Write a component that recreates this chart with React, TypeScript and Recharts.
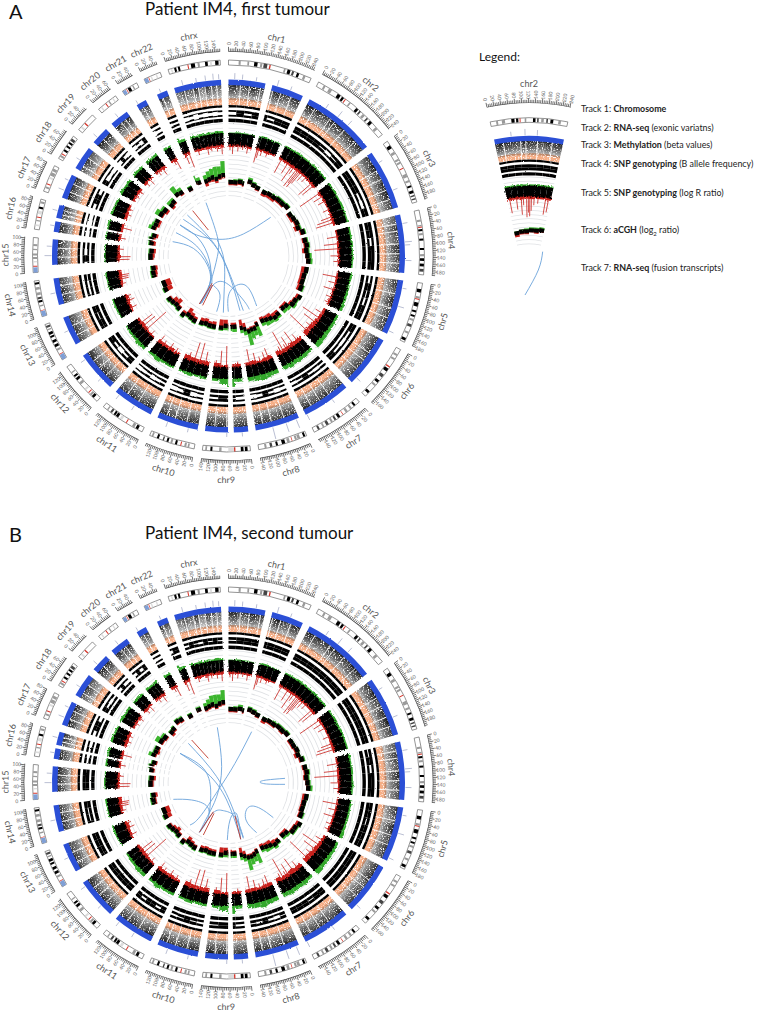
import React from 'react';
import { PieChart, Pie, Sector, LineChart, Line, XAxis, YAxis } from 'recharts';

type Pair = number[];

const chromNames = ['chr1','chr2','chr3','chr4','chr5','chr6','chr7','chr8','chr9','chr10','chr11','chr12','chr13','chr14','chr15','chr16','chr17','chr18','chr19','chr20','chr21','chr22','chrx'];
const chromSizes = [249,243,198,191,181,171,159,146,141,136,135,134,115,107,103,90,81,78,59,63,48,51,155];
const tickLabels = [0,20,40,60,80,100,120,140,160,180,200,220,240];
const tickSpacing = 5;
const chromGapMb = 24.4;

// start, end in Mb, then the stain: k black, d dark, g grey, l light, r centromere, b stalk
const cytoBands: (number|string)[][][] = [
  [[30,36,'g'],[56,61,'g'],[76,86,'k'],[94,100,'g'],[104,115,'d'],[121,125,'r'],[165,170,'g'],[176,185,'k'],[190,196,'d'],[205,212,'k'],[225,232,'g']],
  [[18,24,'g'],[36,46,'g'],[66,76,'k'],[81,88,'k'],[92,95,'r'],[108,113,'g'],[134,142,'k'],[147,152,'d'],[160,168,'g'],[176,181,'d'],[189,198,'k'],[214,222,'g']],
  [[14,24,'k'],[36,44,'g'],[60,66,'g'],[70,76,'g'],[90,93,'r'],[110,120,'g'],[130,136,'g'],[146,152,'k'],[162,170,'k'],[176,180,'d'],[186,190,'d']],
  [[28,34,'g'],[44,48,'g'],[49,52,'r'],[56,62,'k'],[68,74,'g'],[84,90,'k'],[112,118,'k'],[130,136,'g'],[142,150,'k'],[158,166,'k'],[174,182,'d']],
  [[18,28,'k'],[40,46,'g'],[47,50,'r'],[58,70,'k'],[82,88,'k'],[96,102,'k'],[108,114,'g'],[125,133,'d'],[148,154,'g'],[168,176,'k']],
  [[16,22,'g'],[30,36,'g'],[58,62,'r'],[66,76,'k'],[88,98,'d'],[110,118,'k'],[125,131,'g'],[152,160,'k']],
  [[14,20,'k'],[28,34,'g'],[43,50,'g'],[59,61,'r'],[70,78,'k'],[84,90,'d'],[96,102,'g'],[110,118,'d'],[125,130,'g'],[140,146,'d']],
  [[4,10,'k'],[20,28,'g'],[30,36,'g'],[44,46,'r'],[52,60,'g'],[66,76,'k'],[88,94,'k'],[105,112,'d'],[122,128,'g']],
  [[8,16,'k'],[20,28,'k'],[44,48,'r'],[48,65,'l'],[85,92,'g'],[112,118,'k'],[128,133,'g']],
  [[15,20,'g'],[24,30,'g'],[39,42,'r'],[52,58,'k'],[66,72,'g'],[78,84,'k'],[92,96,'d'],[108,114,'k'],[125,130,'g']],
  [[14,22,'k'],[26,34,'g'],[52,55,'r'],[68,76,'l'],[82,90,'k'],[92,98,'k'],[104,110,'d'],[118,122,'g']],
  [[14,22,'k'],[24,30,'g'],[34,37,'r'],[46,52,'l'],[68,76,'g'],[84,92,'k'],[96,102,'k'],[110,114,'g']],
  [[0,16,'b'],[17,19,'r'],[30,36,'g'],[42,50,'k'],[56,64,'k'],[72,78,'k'],[82,90,'k'],[96,100,'g'],[104,110,'d']],
  [[0,16,'b'],[17,19,'r'],[30,34,'g'],[42,48,'k'],[52,58,'d'],[64,72,'g'],[80,88,'g'],[96,102,'k']],
  [[0,15,'b'],[17,20,'r'],[30,34,'l'],[40,46,'g'],[50,56,'g'],[66,70,'g'],[78,84,'g']],
  [[10,15,'l'],[24,28,'g'],[35,38,'r'],[46,56,'l'],[62,68,'k'],[78,84,'g']],
  [[10,16,'g'],[22,25,'r'],[40,46,'l'],[50,60,'g'],[64,72,'g']],
  [[6,12,'g'],[15,18,'r'],[26,32,'k'],[40,46,'k'],[52,58,'k'],[62,70,'d']],
  [[8,14,'l'],[24,28,'r']],
  [[8,12,'l'],[25,28,'r'],[36,40,'g'],[50,54,'l']],
  [[0,10,'b'],[12,14,'r'],[17,26,'k'],[32,36,'g']],
  [[0,11,'b'],[13,15,'r'],[20,24,'l'],[36,40,'l']],
  [[8,12,'l'],[18,24,'k'],[29,35,'k'],[58,61,'r'],[68,80,'k'],[88,94,'g'],[110,118,'k'],[125,130,'l'],[140,150,'k']],
];

// stretches with no measurements (centromeres and acrocentric arms)
const noDataSpans: (number[]|null)[] = [[121,144],null,null,null,null,null,null,null,[47,66],null,null,null,[0,19],[0,19],[0,20],[35,46],null,null,null,null,[0,14],[0,16],null];

const rnaDensity = [
  [.9,.8,.95,.85,.9,.95,.8,.9],[.95,.9,.85,.95,.9,.85,.95,.9],[.85,.95,.8,.9,.95,.8],[.7,.85,.75,.9,.8,.75],[.85,.75,.9,.8,.85,.8],[.85,.9,.75,.85,.8],
  [.9,.8,.9,.85,.8,.9],[.85,.9,.8,.85,.9],[.85,.8,.9,.95],[.9,.85,.8,.9],[.9,.8,.9,.85],[.85,.9,.8,.9],[.8,.85,.8],[.85,.9,.8],[.9,.85,.9],[.9,.75,.85],[.95,.85,.9],[.75,.85,.7],[.95,.9],[.9,.85,.9],[.7,.8],[.9,.75],[.65,.8,.7,.85,.6,.85,.75,.7],
];
const rnaStreaks = [
  [40,70,108,150,178,214],[30,92,110,152,205],[60,92,132,165],[28,52,95,128,160],[48,98,132],[60,90,128],[60,96,130],[46,90,120],[70,110],[40,80,110],[55,100],[36,70,100],[45,80],[50,80],[45,75],[60,75],[26,55],[18,50],[28],[28,45],[30],[30],[30,60,78,100,122,140],
];
const rnaOutliers = [
  [[20,6],[45,5],[90,4],[160,6],[205,4]],[[60,5],[108,7],[150,6]],[[40,4],[140,5]],[[30,5],[90,7],[100,5],[150,6]],[[25,4],[85,6],[170,5]],[[150,5]],[[60,4],[155,6]],[[10,9],[45,9],[90,12]],[[20,4],[70,4]],[[30,4],[100,5]],[[60,5],[120,5]],[[40,4],[120,5]],[[70,4]],[[60,5]],[[50,7],[80,5]],[[20,4],[70,5]],[[25,6],[60,4]],[[30,4]],[[20,5]],[[30,5]],[[20,4]],[[30,4]],[[30,5],[75,4],[105,5],[130,6],[148,5]],
];

const bafSplitA = [[3,0,2,0,0,2,0,0],[0,0,0,0,1,3,1,0],[0,0,0,2,3,0],[0,0,2,0,0,0],[2,0,1,2,0,0],[0,2,3,2,0],[2,3,2,0,2,3],[3,4,2,0,3,4],[3,1,0,2],[3,4,0,3,4],[2,3,4,2,3,4],[0,2,4,2,0],[0,0,1,0],[1,2,2,1],[3,0,3,2],[4,3,5,4],[3,0,0,3],[0,4,3,4],[4,0,3,4],[4,2,4,0],[5,3],[3,2],[4,3,5,3,4,3,4,3]];
const bafSplitB = [[1,0,0,0,0,0,0,0],[0,0,0,0,0,0,0,0],[0,0,0,0,0,0],[1,0,2,0,0,0],[0,0,1,0,0,0],[0,0,0,0,0],[0,0,1,0,0,0],[1,3,2,0,2,1],[2,0,0,1],[2,1,0,1,2],[0,2,0,0,2,0],[0,0,0,0,0],[0,0,0,0],[0,1,1,0],[0,0,0,0],[2,3,2,3],[3,0,0,3],[0,2,3,2],[3,0,3,3],[3,0,3,0],[3,3],[3,0],[2,0,1,2,0,1,0,1]];

const logRGreen = [[.5,1,.8,.5,1,1.5,1,1],[1.5,1.5,2,1.5,1.5,2,1.5,1.5],[1.5,2,1.5,2,1.5,1.5],[1.5,1.5,2,1.5,2,1.5],[2,1.5,2,2,2.5,3],[2.5,3,3.5,4,5],[3,4,4,4,5,4],[4,5,6,5,4],[3,8,5,2.5],[2.5,2,3,2],[2.5,2.5,4,2.5],[3.5,4,2.5,2.5,1.5],[1,1.5,1.5],[1,1,1.5],[1,1.5,1],[1.5,1.5,2],[2.5,2,2],[2.5,2,2.5],[2.5,2],[2.5,2,2.5],[2.5,2],[5,2.5],[2.5,1.5,2,1.5,2,1.5,2.5,2]];
const logRRed = [[2,1.5,1.5,2,1.5,1.5,2,1.5],[2,2,2.5,2,2.5,2,2,2],[2,1.5,1.5,1.5,2,2],[1.5,1.5,2,2,1.5,1.5],[1.5,1.5,1.5,2,1.5,2],[2.5,3,4,4.5,5],[4,4,4.5,3.5,3.5,4.5],[3.5,3,2.5,3.5,3],[2.5,2.5,2,3.5],[4,3.5,3.5,4.5],[2.5,3.5,3,3],[1.5,2,3,3.5,2.5],[1.5,2.5,3.5],[1.5,2.5,3],[2,2.5,2],[2,2.5,2.5],[3,2.5,2],[2.5,2,2.5],[2.5,2],[2.5,2.5,3],[2.5,3],[4,2.5],[2,2.5,2,2.5,2,2,2.5,2.5]];
const logRSpikes = [
  [[8,5],[22,9],[50,6],[75,4],[100,7],[150,14],[158,9],[175,6],[205,5]],
  [[14,16],[52,13],[78,19],[90,9],[108,22],[118,17],[126,21],[135,15],[150,9],[172,7],[214,18],[230,15]],
  [[12,24],[35,10],[62,8],[110,7],[150,12],[165,17],[182,19]],
  [[35,11],[72,15],[98,25],[135,9],[165,6]],
  [[30,15],[62,8],[98,11],[138,6],[168,5]],
  [[28,9],[58,21],[88,16],[118,9],[150,26]],
  [[28,10],[55,17],[88,14],[100,7],[118,23],[132,8]],
  [[22,12],[42,9],[68,6],[92,11],[124,16]],
  [[15,5],[75,21],[105,16],[130,6]],
  [[20,13],[50,21],[80,20],[110,8]],
  [[25,6],[60,8],[100,6],[125,9]],
  [[25,6],[60,27],[85,16],[105,15]],
  [[40,7],[80,8],[105,6]],
  [[35,5],[60,9],[70,9],[80,10]],
  [[30,12],[45,13],[85,6]],
  [[15,7],[70,11]],
  [[30,6],[60,5]],
  [[30,5],[62,6]],
  [[15,6],[40,8]],
  [[18,6],[45,9]],
  [[30,6],[42,12]],
  [[26,11],[45,16]],
  [[20,6],[70,8],[90,5],[120,6],[145,9]],
];

// each bin: level, green rise, red drop
const acghA = [
  [[74,0,1],[74,1,1],[75,1,1],[74,0,1],[77,2,0],[75,1,0],[74,0,1]],
  [[73,0,2],[74,0,2],[74,1,2],[75,1,1],[75,1,1],[76,1,0]],
  [[74,0,1],[75,0,2],[76,0,1],[75,1,2],[78,1,1]],
  [[78,1,1],[79,1,1],[78,1,2],[79,2,0],[80,2,0]],
  [[79,0,3],[78,0,2],[78,0,2],[79,1,2]],
  [[82,0,2],[80,1,1],[80,2,2],[76,3,2],[75,3,1]],
  [[76,2,2],[77,2,3],[75,3,3],[74,4,2],[73,3,2]],
  [[74,10,1],[77,5,1],[77,7,1],[78,12,1],[75,4,4],[73,3,6]],
  [[71,3,2],[71,2,2],[70,2,4],[72,1,6]],
  [[72,1,3],[72,1,2],[71,1,3],[72,1,3]],
  [[73,1,2],[72,1,3],[71,1,5],[74,1,2]],
  [[72,1,1],[71,1,5],[72,1,4],[73,1,1]],
  [[71,1,5],[70,0,5]],
  [[77,1,1],[77,1,2],[76,1,2]],
  [[78,0,1],[78,0,2],[77,1,2]],
  [[78,1,2],[79,1,2],[77,1,2]],
  [[80,3,1],[79,2,2],[79,1,2]],
  [[79,4,1],[78,2,2]],
  [[76,3,2],[77,2,1]],
  [[80,7,0],[79,3,1]],
  [[77,1,0]],
  [[80,5,0],[79,3,0]],
  [[78,4,3],[79,6,1],[80,7,2],[78,10,2],[80,8,1],[81,12,1]],
];
const acghB = [
  [[74,0,1],[74,1,1],[75,2,0],[74,0,1],[76,1,0],[75,1,0],[74,0,1]],
  [[73,0,2],[74,0,1],[74,1,1],[75,1,0],[75,1,1],[76,1,0]],
  [[75,0,1],[75,0,1],[76,0,1],[75,0,2],[77,1,1]],
  [[78,0,1],[79,1,1],[78,1,1],[79,1,0],[80,2,0]],
  [[79,0,2],[78,0,1],[78,0,1],[79,1,1]],
  [[82,0,2],[80,1,1],[80,1,1],[76,2,2],[75,2,1]],
  [[76,1,1],[77,2,3],[75,2,3],[74,3,2],[73,2,2]],
  [[74,10,1],[76,5,1],[77,6,1],[77,11,1],[75,3,3],[73,3,5]],
  [[71,2,1],[71,2,2],[70,2,3],[72,1,5]],
  [[72,1,2],[72,1,2],[71,1,2],[72,1,2]],
  [[73,1,1],[72,1,2],[71,1,3],[74,1,1]],
  [[72,1,1],[71,1,3],[72,1,2],[73,1,1]],
  [[71,1,4],[70,0,4]],
  [[77,1,1],[77,1,1],[76,1,2]],
  [[78,0,1],[78,0,1],[77,1,2]],
  [[78,0,1],[79,1,1],[77,1,1]],
  [[80,3,1],[79,1,2],[79,1,1]],
  [[79,4,1],[78,2,1]],
  [[76,1,2],[77,1,1]],
  [[80,1,1],[79,1,1]],
  [[77,1,0]],
  [[79,1,0],[79,1,0]],
  [[78,3,1],[79,5,1],[80,7,1],[78,9,1],[80,7,1],[81,10,1]],
];

const gridRadii = [60,64.5,69,73.5,78,82.5,87,91.5,96,100.5,105,109.5,114,118.5,123,127.5,132];

// fusion links, read in 3x crop units of each panel
const linksABlue: Pair[][] = [
  [[228,188],[262,290],[262,350],[240,430],[208,492]],
  [[422,232],[340,282],[270,298],[200,285],[150,255]],
  [[172,225],[240,295],[290,380],[340,512]],
  [[160,238],[230,290],[285,370],[330,512]],
  [[150,255],[205,295],[238,360],[240,430],[215,490]],
  [[138,278],[200,318],[238,380],[243,440],[210,492]],
  [[128,305],[190,325],[232,375],[240,430],[212,490]],
  [[210,492],[248,436],[290,430],[340,480],[358,508]],
  [[260,515],[270,465],[250,436]],
  [[280,518],[283,440],[282,360],[262,300]],
  [[295,515],[300,455],[345,435],[380,498]],
];
const linksARed: Pair[][] = [[[188,212],[235,270]],[[208,492],[246,430]],[[218,496],[248,435]]];
const linksBBlue: Pair[][] = [
  [[292,262],[305,380],[290,470],[262,530],[238,578]],
  [[395,275],[345,370],[295,450],[240,530],[210,555]],
  [[205,310],[290,410],[340,510],[370,595]],
  [[180,340],[262,400],[320,480],[362,595]],
  [[180,340],[250,385],[272,450],[268,520]],
  [[160,478],[215,480],[262,500],[262,540],[240,575]],
  [[495,415],[440,420],[420,426],[440,432],[495,433]],
  [[240,575],[280,518],[310,512],[345,530],[370,592]],
  [[322,600],[330,540],[350,522],[362,598]],
  [[410,578],[378,540],[385,502],[420,505],[460,533]],
];
const linksBRed: Pair[][] = [[[215,300],[265,355]],[[238,577],[280,515]],[[250,585],[282,520]],[[345,528],[362,598]]];
const linkLegend: Pair[][] = [[[218,545],[205,600],[165,675]]];

const legendRows: [string,string,string][] = [
  ['Track 1: ','Chromosome',''],
  ['Track 2: ','RNA-seq',' (exonic variatns)'],
  ['Track 3: ','Methylation',' (beta values)'],
  ['Track 4: ','SNP genotyping',' (B allele frequency)'],
  ['Track 5: ','SNP genotyping',' (log R ratio)'],
  ['Track 6: ','aCGH',''],
  ['Track 7: ','RNA-seq',' (fusion transcripts)'],
];

/* ---------------- drawing ---------------- */
const FONT = 'Lato, "Open Sans", sans-serif';
const stain: Record<string,string> = { k:'#000', d:'#444', g:'#9a9a9a', l:'#dcdcdc', r:'#d8352a', b:'#7f9fd6' };

type Plot = { id:string; cx:number; cy:number; k:number; start:number; end:number; chrs:number[]; gap:number; shift:number; baf:number[][]; acgh:number[][][] };
const plotA: Plot = { id:'A', cx:228.5, cy:256, k:1, start:90, end:-270, chrs:chromSizes.map((_,i)=>i), gap:chromGapMb, shift:0, baf:bafSplitA, acgh:acghA };
const plotB: Plot = { id:'B', cx:228.5, cy:783, k:1, start:90, end:-270, chrs:chromSizes.map((_,i)=>i), gap:chromGapMb, shift:0, baf:bafSplitB, acgh:acghB };
const plotL: Plot = { id:'L', cx:529, cy:300, k:.93, start:102.3, end:77.7, chrs:[1], gap:0, shift:7, baf:[[],bafSplitB[1]] as number[][], acgh:[[],acghB[1]] as number[][][] };
const plots = [plotA, plotB, plotL];

const flat = (p: Plot, perChr: (i:number)=>any[]) => {
  const out: any[] = [];
  p.chrs.forEach(i => { out.push(...perChr(i)); if (p.gap) out.push({ size:p.gap, fill:'none' }); });
  return out;
};
const binned = (i:number, values:any[], make:(v:any)=>any) => {
  const w = chromSizes[i] / values.length, g = noDataSpans[i], out:any[] = [];
  values.forEach((v,j) => {
    const a = j*w, b = (j+1)*w;
    if (!g) { out.push({ size:b-a, ...make(v) }); return; }
    if (a < g[0]) out.push({ size:Math.min(b,g[0])-a, ...make(v) });
    if (b > g[0] && a < g[1]) out.push({ size:Math.min(b,g[1])-Math.max(a,g[0]), fill:'none' });
    if (b > g[1]) out.push({ size:b-Math.max(a,g[1]), ...make(v) });
  });
  return out.filter(e => e.size > 0);
};
const pointed = (i:number, pts:{pos:number; marks:any[]}[]) => {
  const out:any[] = []; let at = 0;
  pts.forEach(pt => { if (pt.pos > at) out.push({ size:pt.pos-at, fill:'none' }); out.push({ size:.001, fill:'none', marks:pt.marks }); at = Math.max(at, pt.pos)+.001; });
  if (chromSizes[i] > at) out.push({ size:chromSizes[i]-at, fill:'none' });
  return out;
};

const drawMarks = (e:any) => {
  const marks = e.marks || (e.payload && e.payload.marks);
  if (!marks) return <g />;
  const rad = Math.PI/180, a = e.midAngle, ca = Math.cos(-a*rad), sa = Math.sin(-a*rad);
  const theta = (((90-a)%360)+360)%360;
  return <g>{marks.map((m:any,n:number) => {
    if (m.t === 'band') return <Sector key={n} cx={e.cx} cy={e.cy} innerRadius={m.ri} outerRadius={m.ro} startAngle={e.startAngle} endAngle={e.endAngle} fill={m.fill} stroke="none" />;
    if (m.t === 'ray') return <line key={n} x1={e.cx+m.ri*ca} y1={e.cy+m.ri*sa} x2={e.cx+m.ro*ca} y2={e.cy+m.ro*sa} stroke={m.stroke} strokeWidth={m.w} strokeOpacity={m.op ?? 1} />;
    const x = e.cx+m.r*ca, y = e.cy+m.r*sa;
    const rot = m.radial ? (theta < 180 ? theta-90 : theta+90) : (theta > 90 && theta < 270 ? theta-180 : theta);
    return <text key={n} x={x} y={y} transform={`rotate(${rot} ${x} ${y})`} textAnchor="middle" dominantBaseline="central" fontSize={m.size} fill={m.fill} fontFamily={FONT}>{m.text}</text>;
  })}</g>;
};

const ring = (key:string, p:Plot, data:any[], ri:number, ro:number, extra:any = {}) => (
  <Pie key={`${p.id}-${key}`} data={data} dataKey="size" cx={p.cx} cy={p.cy} startAngle={p.start} endAngle={p.end} innerRadius={ri*p.k} outerRadius={ro*p.k} stroke="none" isAnimationActive={false} labelLine={false} {...extra} />
);
const marked = (key:string, p:Plot, data:any[]) => ring(key, p, data, 1, 2, { label:drawMarks });

const baseLayer = (p:Plot) => {
  const k = p.k, s = p.shift;
  const out:any[] = [];
  gridRadii.forEach((r,n) => out.push(ring(`grid${n}`, p, flat(p, i => binned(i,[0],()=>({fill:'#dfe1e4'}))), r, r+.8)));
  out.push(ring('ideo-base', p, flat(p, i => [{ size:chromSizes[i], fill:'#fff', stroke:'#666', strokeWidth:.7 }]), 191, 196));
  out.push(ring('ideo', p, flat(p, i => {
    const es:any[] = []; let at = 0;
    [...cytoBands[i]].forEach(b => {
      const st = b[0] as number, en = b[1] as number;
      if (st > at) es.push({ size:st-at, fill:'none' });
      es.push({ size:en-st, fill:stain[b[2] as string] }); at = en;
    });
    if (chromSizes[i] > at) es.push({ size:chromSizes[i]-at, fill:'none' });
    return es.filter(e => e.size > 0);
  }), 191.4, 195.6));
  out.push(ring('tick-base', p, flat(p, i => [{ size:chromSizes[i], fill:'#555' }]), 204.2, 204.9, p.shift ? { innerRadius:204.2*k+s, outerRadius:204.9*k+s } : {}));
  out.push(marked('ticks', p, flat(p, i => {
    const pts:{pos:number;marks:any[]}[] = [];
    for (let q = 0; q <= chromSizes[i]; q += tickSpacing) {
      const major = q % 20 === 0;
      const r0 = 204.5*k+s;
      const marks:any[] = [{ t:'ray', ri:r0, ro:r0+(major?4.6:3), stroke:'#333', w:.7 }];
      if (tickLabels.includes(q)) marks.push({ t:'text', r:r0+8, radial:true, size:5, fill:'#666', text:String(q) });
      pts.push({ pos:q, marks });
    }
    return pointed(i, pts);
  })));
  out.push(marked('names', p, flat(p, i => [{ size:chromSizes[i], fill:'none', marks:[{ t:'text', r:p.shift ? 217 : 223.5, size:9, fill:'#555', text:chromNames[i] }] }])));
  return out;
};

const grainLayer = (p:Plot) => [
  ring('orange', p, flat(p, i => binned(i,[0],()=>({ fill:'#f4a97e', fillOpacity:.95 }))), 151, 158),
  ring('fade', p, flat(p, i => binned(i, rnaDensity[i], v => ({ fill:`url(#fade-${p.id})`, fillOpacity:v }))), 156, 172),
];

const smoothLayer = (p:Plot) => {
  const k = p.k;
  return [
    ring('blue', p, flat(p, i => binned(i,[0],()=>({ fill:'#2b4fd6' }))), 171, 176.5),
    marked('baf', p, flat(p, i => binned(i, p.baf[i], (v:number) => ({ fill:'none', marks:[
      { t:'band', ri:148.6*k, ro:151*k, fill:'#000' },
      { t:'band', ri:134*k, ro:137.4*k, fill:'#000' },
      { t:'band', ri:139.4*k, ro:(142.7-v/2)*k, fill:'#000' },
      { t:'band', ri:(142.7+v/2)*k, ro:146*k, fill:'#000' },
    ] })))),
    marked('acgh', p, flat(p, i => binned(i, p.acgh[i], (v:number[]) => ({ fill:'none', marks:[
      { t:'band', ri:(v[0])*k, ro:(v[0]+2.2+v[1])*k, fill:'#3cb52e' },
      { t:'band', ri:(v[0]-2.2-v[2])*k, ro:(v[0])*k, fill:'#c8211c' },
      { t:'band', ri:(v[0]-2.2)*k, ro:(v[0]+2.2)*k, fill:'#000' },
    ] })))),
  ];
};

const roughLayer = (p:Plot) => {
  const k = p.k;
  return [
    marked('logr', p, flat(p, i => {
      const g = logRGreen[i], r = logRRed[i];
      return binned(i, g.map((h,j)=>[h, r[j]]), (v:number[]) => ({ fill:'none', marks:[
        { t:'band', ri:120*k, ro:(123+v[0])*k, fill:'#34a82c' },
        { t:'band', ri:(111-v[1])*k, ro:114*k, fill:'#c8211c' },
        { t:'band', ri:111*k, ro:123*k, fill:'#000' },
      ] }));
    })),
  ];
};

const rayLayer = (p:Plot) => {
  const k = p.k;
  return [
    marked('streaks', p, flat(p, i => pointed(i, rnaStreaks[i].map(pos => ({ pos, marks:[{ t:'ray', ri:151*k, ro:171*k, stroke:'#fff', w:.9 }] }))))),
    marked('outliers', p, flat(p, i => pointed(i, (rnaOutliers[i] as number[][]).slice().sort((x,y)=>x[0]-y[0]).map(o => ({ pos:o[0], marks:[{ t:'ray', ri:177*k, ro:(177+o[1])*k, stroke:'#8c93b5', w:.6 }] }))))),
    marked('spikes', p, flat(p, i => pointed(i, logRSpikes[i].map(o => ({ pos:o[0], marks:[{ t:'ray', ri:(111-o[1])*k, ro:112*k, stroke:'#c8211c', w:.8 }] }))))),
  ];
};

const layer = (build:(p:Plot)=>any[], filter?:string) => (
  <div style={{ position:'absolute', left:0, top:0, width:760, height:1012, filter }}>
    <PieChart width={760} height={1012} margin={{ top:0, right:0, bottom:0, left:0 }}>
      {plots.flatMap(build)}
    </PieChart>
  </div>
);

const Links = ({ left, top, w, h, blue, red }:{left:number;top:number;w:number;h:number;blue:Pair[][];red:Pair[][]}) => (
  <div style={{ position:'absolute', left, top }}>
    <LineChart width={w} height={h} margin={{ top:0, right:0, bottom:0, left:0 }}>
      <XAxis hide type="number" dataKey="x" domain={[0,w*3]} allowDataOverflow />
      <YAxis hide type="number" domain={[0,h*3]} reversed allowDataOverflow />
      {[...blue.map(l=>[l,'#6ba3da']), ...red.map(l=>[l,'#c0392b'])].map(([l,c]:any,n) => (
        <Line key={n} data={l.map((q:number[])=>({ x:q[0], y:q[1] }))} dataKey="y" type="natural" stroke={c} strokeWidth={0.9} dot={false} isAnimationActive={false} />
      ))}
    </LineChart>
  </div>
);

const Txt = ({ x, y, size, children, color='#111' }:any) => (
  <div style={{ position:'absolute', left:x, top:y, fontSize:size, lineHeight:1, color, fontFamily:FONT, whiteSpace:'nowrap' }}>{children}</div>
);

const legendYs = [105,124,141,160,189,226,264];

export default function App() {
  return (
    <div style={{ position:'absolute', left:0, top:0, width:760, height:1012, background:'#fff', overflow:'hidden' }}>
      <svg width={0} height={0} style={{ position:'absolute' }}>
        <defs>
          {plots.map(p => (
            <radialGradient key={p.id} id={`fade-${p.id}`} gradientUnits="userSpaceOnUse" cx={p.cx} cy={p.cy} r={172*p.k}>
              <stop offset="0.91" stopColor="#111" stopOpacity={.25} />
              <stop offset="0.95" stopColor="#111" stopOpacity={.7} />
              <stop offset="1" stopColor="#000" stopOpacity={1} />
            </radialGradient>
          ))}
          <filter id="grain" x="0" y="0" width="100%" height="100%" colorInterpolationFilters="sRGB">
            <feTurbulence type="fractalNoise" baseFrequency="0.85" numOctaves={2} seed={4} result="n" />
            <feColorMatrix in="n" type="matrix" values="0 0 0 0 0  0 0 0 0 0  0 0 0 0 0  4 0 0 0 -0.9" result="a" />
            <feComposite in="SourceGraphic" in2="a" operator="in" />
          </filter>
          <filter id="fine" x="0" y="0" width="100%" height="100%" colorInterpolationFilters="sRGB">
            <feTurbulence type="fractalNoise" baseFrequency="0.6" numOctaves={2} seed={5} result="n" />
            <feDisplacementMap in="SourceGraphic" in2="n" scale={1.6} xChannelSelector="R" yChannelSelector="G" />
          </filter>
          <filter id="rough" x="0" y="0" width="100%" height="100%" colorInterpolationFilters="sRGB">
            <feTurbulence type="fractalNoise" baseFrequency="0.7" numOctaves={2} seed={9} result="n" />
            <feDisplacementMap in="SourceGraphic" in2="n" scale={3} xChannelSelector="R" yChannelSelector="G" />
          </filter>
        </defs>
      </svg>
      {layer(baseLayer)}
      {layer(grainLayer, 'url(#grain)')}
      {layer(smoothLayer, 'url(#fine)')}
      {layer(roughLayer, 'url(#rough)')}
      {layer(rayLayer)}
      <Links left={130} top={140} w={200} h={220} blue={linksABlue} red={linksARed} />
      <Links left={120} top={640} w={230} h={230} blue={linksBBlue} red={linksBRed} />
      <Links left={470} top={70} w={290} h={240} blue={linkLegend} red={[]} />
      <Txt x={9} y={1} size={20}>A</Txt>
      <Txt x={145} y={0} size={17}>Patient IM4, first tumour</Txt>
      <Txt x={9} y={524} size={20}>B</Txt>
      <Txt x={145} y={524} size={17}>Patient IM4, second tumour</Txt>
      <Txt x={479} y={51} size={12}>Legend:</Txt>
      {legendRows.map((row,n) => (
        <Txt key={n} x={581} y={legendYs[n]} size={8.9} color="#222">
          {row[0]}<b>{row[1]}</b>{row[2]}{n === 5 ? <> (log<sub style={{ fontSize:6 }}>2</sub> ratio)</> : null}
        </Txt>
      ))}
    </div>
  );
}
